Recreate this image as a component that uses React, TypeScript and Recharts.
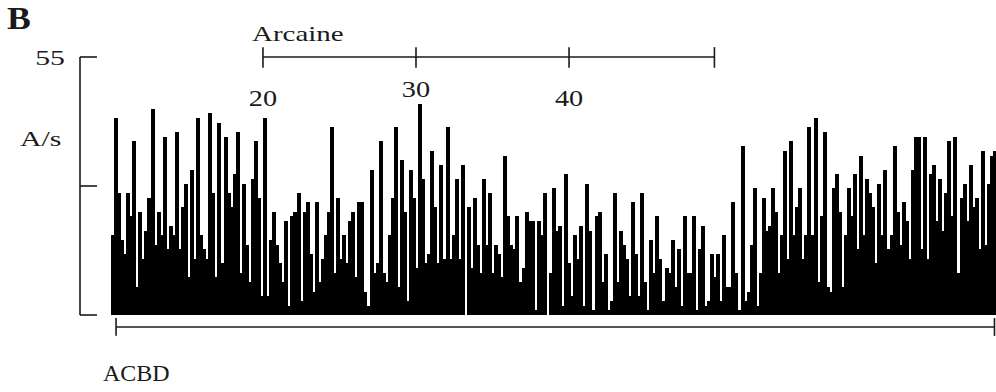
import React from 'react';
import { ComposedChart, Bar, XAxis, YAxis, ReferenceLine } from 'recharts';

// action potentials per second, one value per bin, read left to right
const rates = [
  17, 42, 26, 16, 13, 26, 21, 37, 6, 22, 12, 18, 25, 44, 15, 22, 17, 38, 14, 19,
  17, 39, 14, 23, 28, 8, 31, 12, 42, 17, 14, 12, 43, 26, 8, 41, 11, 38, 26, 23,
  30, 39, 9, 28, 15, 7, 29, 37, 25,
  4, 42, 4, 16, 22, 15, 11, 7, 20, 2, 21, 22, 26, 3, 22, 24, 13, 5, 24, 7,
  12, 17, 22, 40, 9, 25, 12, 17, 11, 20, 22, 8, 24, 24, 5, 2, 31, 9, 11, 37,
  9, 7, 17, 25, 40, 6, 33, 22,
  3, 31, 25, 10, 45, 29, 11, 13, 35, 23, 11, 32, 12, 40, 12, 17, 29, 12, 32, 0,
  23, 10, 25, 15, 9, 29, 15, 26, 9, 15, 13, 8, 34, 21, 15, 14, 21, 7, 10, 22,
  20, 20, 1, 20, 17, 26, 0, 9, 27,
  18, 19, 2, 30, 11, 4, 17, 12, 19, 2, 28, 18, 1, 21, 22, 7, 13, 1, 3, 26,
  7, 18, 15, 12, 4, 24, 13, 4, 26, 7, 1, 16, 9, 21, 12, 3, 10, 9, 16, 6,
  14, 2, 21, 9, 9, 21, 1, 14, 19,
  2, 3, 13, 8, 13, 3, 17, 6, 6, 24, 9, 1, 36, 3, 5, 15, 27, 2, 9, 25,
  18, 19, 27, 22, 9, 17, 35, 12, 37, 17, 23, 27, 12, 17, 40, 17, 42, 7, 21, 39,
  6, 5, 27, 30, 22, 6, 17, 27,
  21, 30, 14, 34, 17, 29, 26, 23, 11, 28, 17, 31, 14, 17, 36, 22, 15, 24, 20, 12,
  31, 38, 38, 14, 38, 12, 30, 32, 20, 29, 18, 26, 37, 21, 38, 9, 25, 28, 20, 32,
  23, 25, 14, 35, 15, 28, 34, 35,
];
const bins = rates.map((_, i) => i + 1);

const yTicks = [0, 27.5, 55];
const yMax = 55;

// time axis (min) used for the drug application bars
const timeDomain = [10.07, 67.9];
const arcaineTicks = [20, 30, 40];
const arcaineStart = 20;
const arcaineEnd = 49.5;
const acbdStart = 10.4;
const acbdEnd = 67.8;

const data = bins.map((b, i) => ({ bin: b, rate: rates[i] }));

const ink = '#1a1a1a';
const serif = '"Liberation Serif", "DejaVu Serif", serif';

// the scanned figure is a little stretched sideways, so text gets a scaleX
const YTick = (props: any) => {
  const { x, y, payload } = props;
  if (payload.value !== yMax) return <g />;
  return (
    <text transform={`translate(${x - 34},${y + 1}) scale(1.42,1)`} textAnchor="end"
      dominantBaseline="central" fontFamily={serif} fontSize={21} fill={ink}>
      {payload.value}
    </text>
  );
};

const TimeTick = (props: any) => {
  const { x, y, payload } = props;
  const lift = payload.value === 30 ? -9 : 0;
  return (
    <text transform={`translate(${x},${y + lift}) scale(1.18,1)`} textAnchor="middle"
      dy="0.71em" fontFamily={serif} fontSize={24} fill={ink}>
      {payload.value}
    </text>
  );
};

const BinShape = (props: any) => {
  const { x, y, width, height } = props;
  if (!height || height <= 0) return <g />;
  return <rect x={x} y={y} width={width + 1} height={height} fill="#000" shapeRendering="crispEdges" />;
};

const stretched = (sx: number): React.CSSProperties => ({
  position: 'absolute', fontFamily: serif, color: ink, whiteSpace: 'nowrap',
  transform: `scaleX(${sx})`, transformOrigin: 'left top',
});

export default function App() {
  const arcLevel = 55;
  const acbdLevel = -2.55;
  return (
    <div style={{ position: 'absolute', left: 0, top: 0, width: 996, height: 392, background: '#fff', overflow: 'hidden' }}>
      <ComposedChart width={996} height={392} data={data}
        margin={{ top: 57, right: 0, bottom: 77, left: 80 }}
        barCategoryGap={0} barGap={0}>
        <XAxis dataKey="bin" hide padding={{ left: 31, right: 0 }} />
        <XAxis xAxisId="t" dataKey="minute" type="number" domain={timeDomain} allowDataOverflow
          orientation="top" mirror ticks={arcaineTicks} axisLine={false} tickLine={false}
          tickSize={0} tickMargin={32} padding={{ left: 31, right: 0 }} tick={<TimeTick />} />
        <YAxis domain={[0, yMax]} ticks={yTicks} mirror tickSize={17}
          axisLine={{ stroke: ink, strokeWidth: 1.6 }}
          tickLine={{ stroke: ink, strokeWidth: 1.6 }} tick={<YTick />} />
        <Bar dataKey="rate" fill="#000" shape={<BinShape />} isAnimationActive={false} />

        <ReferenceLine xAxisId="t" ifOverflow="visible" stroke={ink} strokeWidth={1.6}
          segment={[{ x: arcaineStart, y: arcLevel }, { x: arcaineEnd, y: arcLevel }]} />
        {[...arcaineTicks, arcaineEnd].map((t) => (
          <ReferenceLine key={t} xAxisId="t" ifOverflow="visible" stroke={ink} strokeWidth={1.6}
            segment={[{ x: t, y: arcLevel - 2.3 }, { x: t, y: arcLevel + 2.1 }]} />
        ))}

        <ReferenceLine xAxisId="t" ifOverflow="visible" stroke={ink} strokeWidth={1.6}
          segment={[{ x: acbdStart, y: acbdLevel }, { x: acbdEnd, y: acbdLevel }]} />
        {[acbdStart, acbdEnd].map((t) => (
          <ReferenceLine key={t} xAxisId="t" ifOverflow="visible" stroke={ink} strokeWidth={1.6}
            segment={[{ x: t, y: acbdLevel + 1.9 }, { x: t, y: acbdLevel - 1.9 }]} />
        ))}
      </ComposedChart>

      <div style={{ ...stretched(1.15), left: 7, top: 1, fontWeight: 'bold', fontSize: 31 }}>B</div>
      <div style={{ ...stretched(1.42), left: 20, top: 127, fontSize: 21 }}>A/s</div>
      <div style={{ ...stretched(1.38), left: 252, top: 22, fontSize: 21 }}>Arcaine</div>
      <div style={{ ...stretched(1.0), left: 103, top: 360, fontSize: 24 }}>ACBD</div>
    </div>
  );
}
